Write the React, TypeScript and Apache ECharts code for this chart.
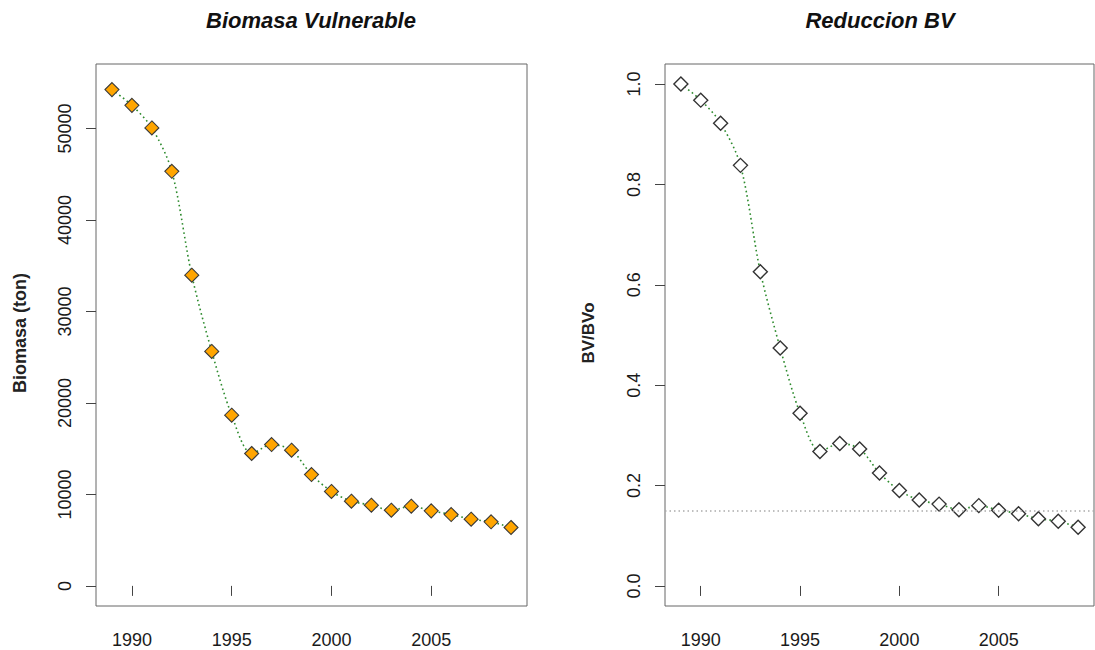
import { useEffect, useRef } from "react";
import * as echarts from "echarts";

// Survey years
const years = [
  1989, 1990, 1991, 1992, 1993, 1994, 1995, 1996, 1997, 1998, 1999, 2000,
  2001, 2002, 2003, 2004, 2005, 2006, 2007, 2008, 2009,
];

// Vulnerable biomass (tonnes)
const biomass = [
  54250, 52530, 50060, 45320, 33960, 25630, 18660, 14470, 15450, 14830, 12170,
  10320, 9260, 8820, 8270, 8710, 8200, 7800, 7290, 7000, 6380,
];

// Vulnerable biomass relative to the initial level (BV/BVo)
const ratio = [
  1.0, 0.968, 0.922, 0.838, 0.626, 0.474, 0.344, 0.268, 0.284, 0.273, 0.225,
  0.19, 0.171, 0.163, 0.152, 0.16, 0.151, 0.144, 0.134, 0.129, 0.117,
];

// Reference level drawn as a dotted horizontal line
const referenceLevel = 0.148;

// Tick positions
const yearTicks = [1990, 1995, 2000, 2005];
const biomassTicks = [0, 10000, 20000, 30000, 40000, 50000];
const ratioTicks = [0, 0.2, 0.4, 0.6, 0.8, 1.0];

const FONT = "'Liberation Sans', Arial, Helvetica, sans-serif";
const LABEL_COLOR = "#1a1a1a";
const TICK_COLOR = "#444";

export default function App() {
  const ref = useRef<HTMLDivElement>(null);

  useEffect(() => {
    if (!ref.current) return;
    const chart = echarts.init(ref.current, null, { renderer: "svg" });

    const xAxisBase = (gridIndex: number) => ({
      type: "value" as const,
      gridIndex,
      min: 1988.2,
      max: 2009.8,
      axisLine: { show: false },
      splitLine: { show: false },
      axisTick: {
        show: true,
        customValues: yearTicks,
        length: 10,
        lineStyle: { color: TICK_COLOR, width: 1 },
      },
      axisLabel: {
        customValues: yearTicks,
        margin: 25,
        fontSize: 18,
        fontFamily: FONT,
        color: LABEL_COLOR,
        formatter: (v: number) => String(v),
      },
    });

    const yAxisBase = (
      gridIndex: number,
      min: number,
      max: number,
      ticks: number[],
      fmt: (v: number) => string
    ) => ({
      type: "value" as const,
      gridIndex,
      min,
      max,
      axisLine: { show: false },
      splitLine: { show: false },
      axisTick: {
        show: true,
        customValues: ticks,
        length: 10,
        lineStyle: { color: TICK_COLOR, width: 1 },
      },
      axisLabel: {
        customValues: ticks,
        rotate: 90,
        margin: 22,
        fontSize: 18,
        fontFamily: FONT,
        color: LABEL_COLOR,
        formatter: fmt,
      },
    });

    const lineStyle = {
      color: "#2e8b2e",
      width: 1.6,
      type: [1.6, 3] as number[],
    };

    chart.setOption({
      animation: false,
      backgroundColor: "#ffffff",
      grid: [
        {
          left: 96,
          top: 64,
          width: 431,
          height: 542,
          show: true,
          borderColor: "#666",
          borderWidth: 1,
          backgroundColor: "transparent",
        },
        {
          left: 665,
          top: 64,
          width: 429,
          height: 542,
          show: true,
          borderColor: "#666",
          borderWidth: 1,
          backgroundColor: "transparent",
        },
      ],
      xAxis: [xAxisBase(0), xAxisBase(1)],
      yAxis: [
        yAxisBase(0, -2200, 57050, biomassTicks, (v) => String(Math.round(v))),
        yAxisBase(1, -0.04, 1.04, ratioTicks, (v) => v.toFixed(1)),
      ],
      series: [
        {
          type: "line",
          xAxisIndex: 0,
          yAxisIndex: 0,
          data: years.map((y, i) => [y, biomass[i]]),
          smooth: 0.3,
          lineStyle,
          symbol: "diamond",
          symbolSize: 14,
          itemStyle: {
            color: "#ffa500",
            borderColor: "#3a3a3a",
            borderWidth: 1.1,
          },
        },
        {
          type: "line",
          xAxisIndex: 1,
          yAxisIndex: 1,
          data: years.map((y, i) => [y, ratio[i]]),
          smooth: 0.3,
          lineStyle,
          symbol: "diamond",
          symbolSize: 14,
          itemStyle: {
            color: "#ffffff",
            borderColor: "#333",
            borderWidth: 1.4,
          },
          markLine: {
            silent: true,
            symbol: "none",
            label: { show: false },
            lineStyle: { color: "#aaa", type: [1.5, 3], width: 1.5 },
            data: [{ yAxis: referenceLevel }],
          },
        },
      ],
      graphic: [
        {
          type: "text",
          x: 311,
          y: 20,
          style: {
            text: "Biomasa Vulnerable",
            font: `italic bold 22px ${FONT}`,
            fill: "#111",
            textAlign: "center",
            textVerticalAlign: "middle",
          },
        },
        {
          type: "text",
          x: 880,
          y: 20,
          style: {
            text: "Reduccion BV",
            font: `italic bold 22px ${FONT}`,
            fill: "#111",
            textAlign: "center",
            textVerticalAlign: "middle",
          },
        },
        {
          type: "text",
          x: 20,
          y: 333,
          rotation: Math.PI / 2,
          style: {
            text: "Biomasa (ton)",
            font: `bold 18px ${FONT}`,
            fill: "#222",
            textAlign: "center",
            textVerticalAlign: "middle",
          },
        },
        {
          type: "text",
          x: 588,
          y: 333,
          rotation: Math.PI / 2,
          style: {
            text: "BV/BVo",
            font: `bold 17px ${FONT}`,
            fill: "#222",
            textAlign: "center",
            textVerticalAlign: "middle",
          },
        },
      ],
    });

    return () => chart.dispose();
  }, []);

  return (
    <div
      ref={ref}
      style={{ position: "fixed", left: 0, top: 0, width: 1095, height: 650 }}
    />
  );
}
